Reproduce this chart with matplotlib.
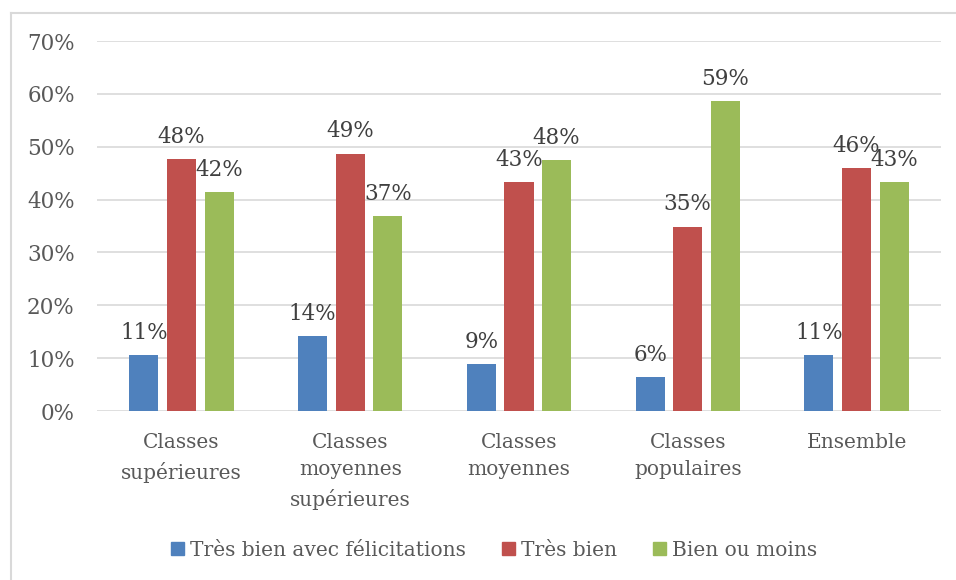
import matplotlib
matplotlib.use("Agg")
import matplotlib.pyplot as plt
from matplotlib.patches import Patch
from matplotlib.lines import Line2D
import numpy as np

categories = ["Classes\nsupérieures", "Classes\nmoyennes\nsupérieures",
              "Classes\nmoyennes", "Classes\npopulaires", "Ensemble"]
series_names = ["Très bien avec félicitations", "Très bien", "Bien ou moins"]
felicitations = [10.6, 14.2, 8.9, 6.4, 10.6]
tres_bien = [47.7, 48.7, 43.3, 34.9, 45.9]
bien_ou_moins = [41.5, 36.8, 47.5, 58.6, 43.3]
colors = ["#4F81BD", "#C0504D", "#9BBB59"]

plt.rcParams["font.family"] = "DejaVu Serif"
W, H = 956, 580
fig = plt.figure(figsize=(W / 100, H / 100), dpi=100)
ax = fig.add_axes([97 / W, 1 - 411 / H, (941 - 97) / W, (411 - 41) / H])

x = np.arange(len(categories))
step = 0.223
width = 0.172
for i, (vals, col) in enumerate(zip([felicitations, tres_bien, bien_ou_moins], colors)):
    pos = x + (i - 1) * step
    ax.bar(pos, vals, width=width, color=col, zorder=3)
    for px, v in zip(pos, vals):
        ax.annotate("%d%%" % round(v), (px, v), xytext=(0, 8), textcoords="offset points",
                    ha="center", va="bottom", fontsize=15.5, color="#404040", zorder=4)

ax.set_xlim(-0.5, len(categories) - 0.5)
ax.set_ylim(0, 70)
ax.set_yticks(range(0, 71, 10))
ax.set_yticklabels(["%d%%" % t for t in range(0, 71, 10)])
ax.set_xticks(x)
ax.set_xticklabels(categories, linespacing=1.55, fontsize=14.5)
ax.tick_params(axis="both", length=0, labelcolor="#595959")
ax.tick_params(axis="y", pad=16, labelsize=15.5)
ax.tick_params(axis="x", pad=16)
ax.grid(axis="y", color="#D9D9D9", linewidth=1.2, zorder=0)
for s in ax.spines.values():
    s.set_visible(False)

handles = [Patch(color=c) for c in colors]
fig.legend(handles, series_names, loc="center", bbox_to_anchor=(494 / W, 1 - 550 / H),
           ncol=3, frameon=False, fontsize=14.5, handlelength=0.65, handleheight=0.65,
           handletextpad=0.3, columnspacing=1.8, labelcolor="#595959")

# chart border (left and top edges)
bx, by = 10.5 / W, 1 - 12.5 / H
fig.add_artist(Line2D([bx, bx], [0, by], color="#D9D9D9", linewidth=1.5, transform=fig.transFigure))
fig.add_artist(Line2D([bx, 1], [by, by], color="#D9D9D9", linewidth=1.5, transform=fig.transFigure))

fig.savefig("out.png", dpi=100)
